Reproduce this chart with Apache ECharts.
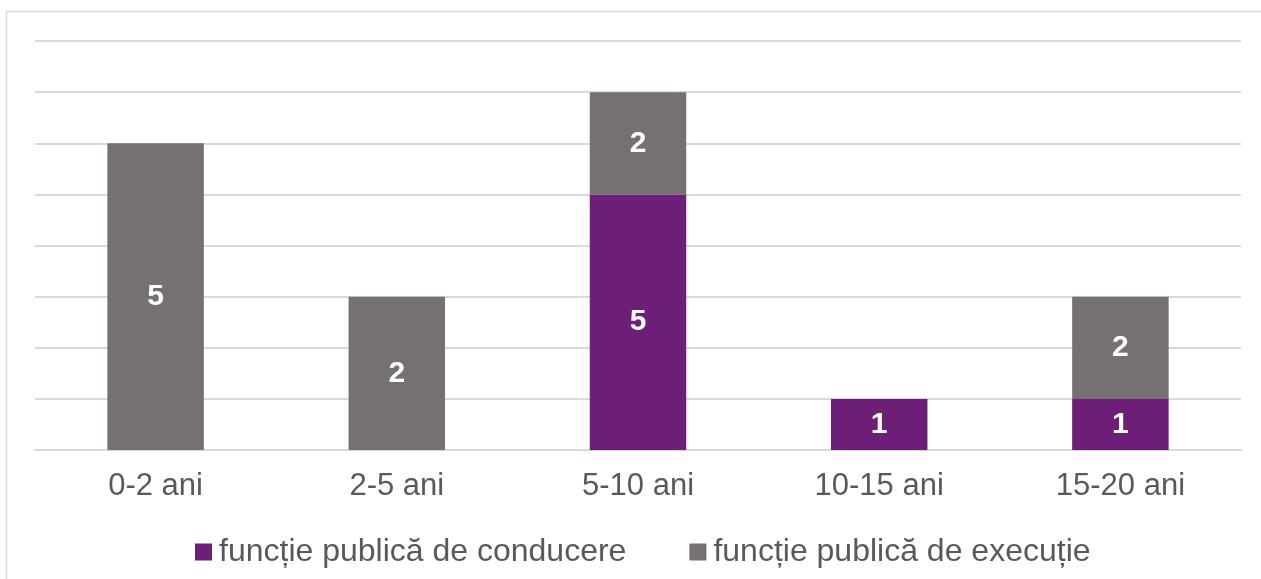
<!DOCTYPE html>
<html>
<head>
<meta charset="utf-8">
<script src="https://cdn.jsdelivr.net/npm/echarts@6/dist/echarts.min.js"></script>
<style>
  html, body { margin: 0; padding: 0; background: #fff; }
  #chart { width: 1261px; height: 579px; }
</style>
</head>
<body>
<div id="chart"></div>
<script>
// categorii si valori
var categorii = ["0-2 ani", "2-5 ani", "5-10 ani", "10-15 ani", "15-20 ani"];
var conducere = [0, 0, 5, 1, 1];
var executie = [6, 3, 2, 0, 2];
// etichetele afisate pe bare (asa apar in original)
var etichetaExecutie = ["5", "2", "2", "", "2"];
var etichetaConducere = ["", "", "5", "1", "1"];

var chart = echarts.init(document.getElementById("chart"));

var eticheta = {
  show: true,
  position: "inside",
  color: "#fff",
  fontSize: 30,
  fontWeight: "bold",
  fontFamily: "Liberation Sans, Arial, sans-serif"
};

chart.setOption({
  animation: false,
  textStyle: { fontFamily: "Liberation Sans, Arial, sans-serif" },
  graphic: [{
    type: "rect",
    shape: { x: 6.5, y: 11.5, width: 1300, height: 600 },
    style: { fill: "none", stroke: "#d9d9d9", lineWidth: 1.5 },
    silent: true
  }],
  grid: { left: 35, right: 20, top: 41, bottom: 129 },
  legend: {
    top: 531,
    left: 190,
    itemWidth: 17,
    itemHeight: 17,
    itemGap: 63,
    icon: "rect",
    textStyle: { color: "#595959", fontSize: 32, padding: [0, 0, 0, 2] },
    data: ["funcție publică de conducere", "funcție publică de execuție"]
  },
  xAxis: {
    type: "category",
    data: categorii,
    axisLine: { lineStyle: { color: "#d9d9d9", width: 2 } },
    axisTick: { show: false },
    axisLabel: { color: "#595959", fontSize: 31, margin: 21 }
  },
  yAxis: {
    type: "value",
    min: 0,
    max: 8,
    interval: 1,
    axisLabel: { show: false },
    axisLine: { show: false },
    axisTick: { show: false },
    splitLine: { lineStyle: { color: "#d9d9d9", width: 2 } }
  },
  series: [
    {
      name: "funcție publică de conducere",
      type: "bar",
      stack: "total",
      barWidth: "40%",
      itemStyle: { color: "#6d1f78" },
      label: Object.assign({}, eticheta, {
        formatter: function (p) { return etichetaConducere[p.dataIndex]; }
      }),
      data: conducere
    },
    {
      name: "funcție publică de execuție",
      type: "bar",
      stack: "total",
      barWidth: "40%",
      itemStyle: { color: "#767171" },
      label: Object.assign({}, eticheta, {
        formatter: function (p) { return etichetaExecutie[p.dataIndex]; }
      }),
      data: executie
    }
  ]
});
</script>
</body>
</html>
